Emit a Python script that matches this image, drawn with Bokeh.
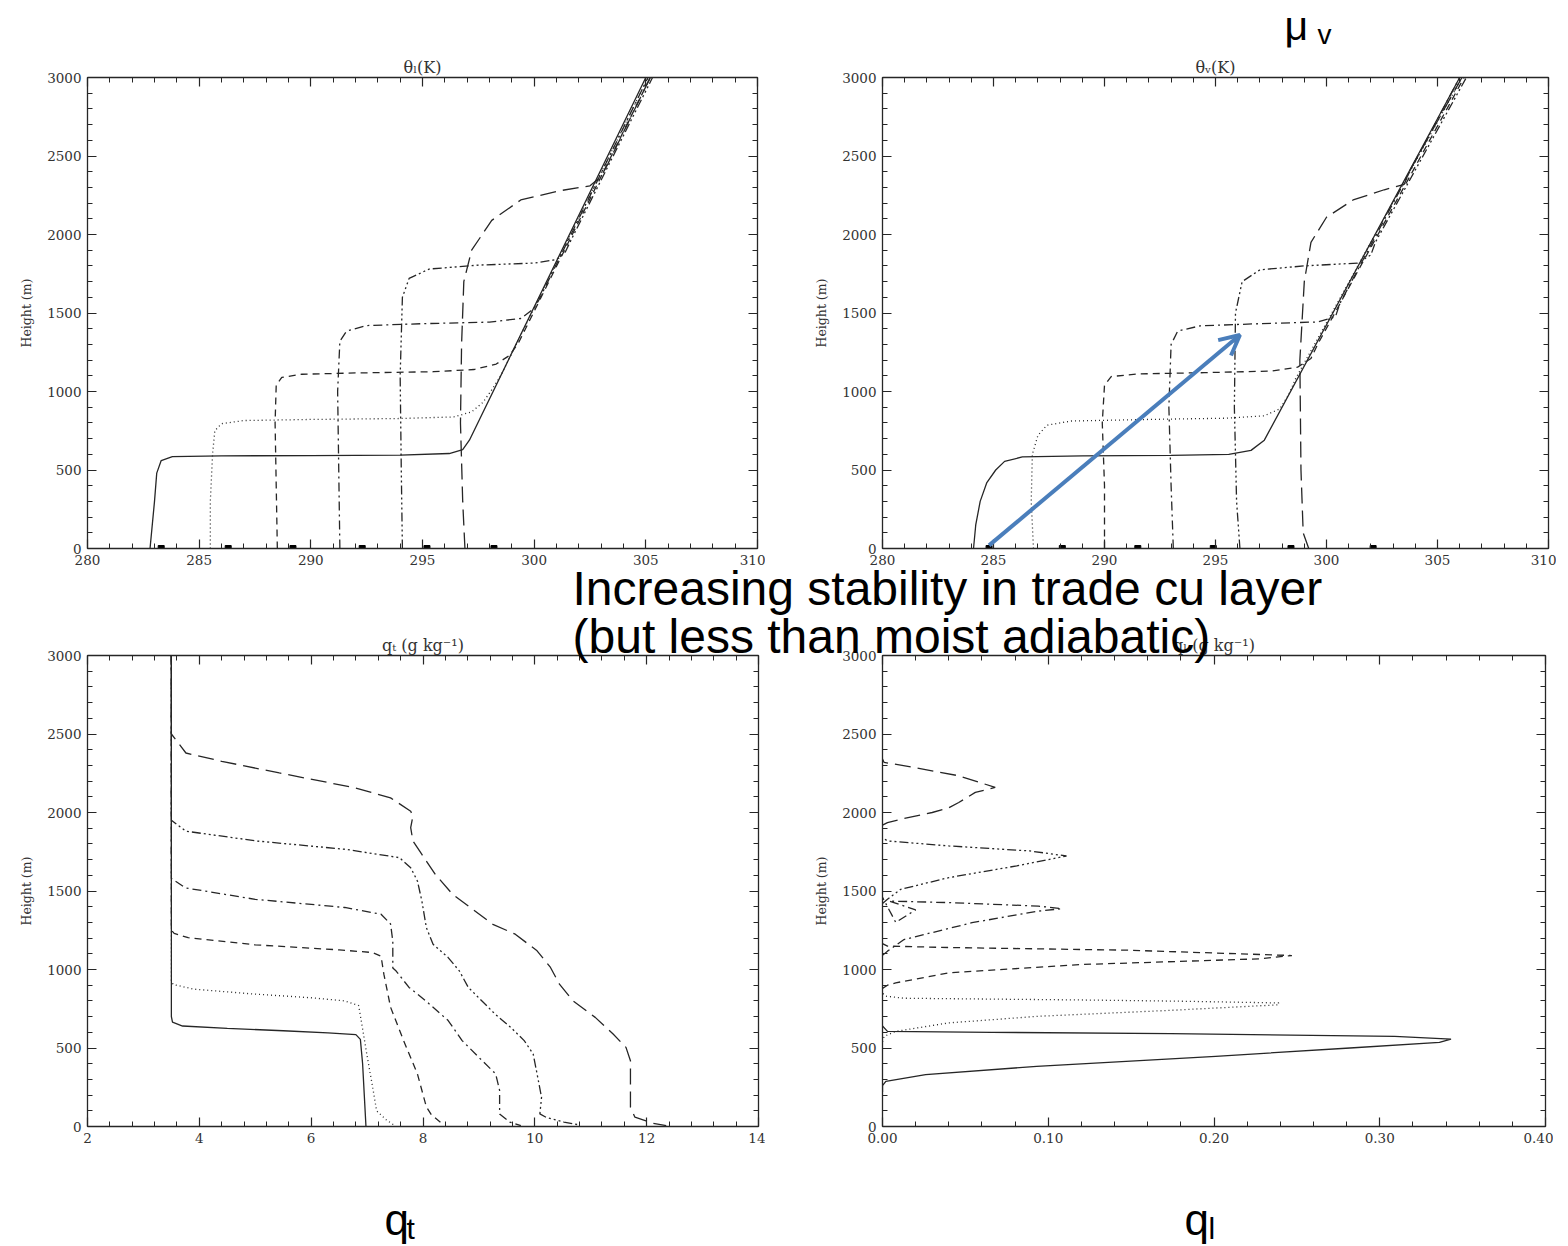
from bokeh.plotting import figure
from bokeh.layouts import column
from bokeh.models import (Range1d, LinearAxis, SingleIntervalTicker, CustomJSTickFormatter,
                          Label, Arrow, OpenHead, GridBox)
from bokeh.embed import file_html
from bokeh.resources import INLINE

# ---------------- data ----------------
# theta_l panel (K, m)
thl_solid_x = [282.8, 283.0, 283.1, 283.3, 283.8, 286.0, 290.0, 294.0, 296.2, 296.8, 297.1, 305.0]
thl_solid_z = [0, 300, 480, 560, 585, 590, 592, 595, 605, 630, 690, 3000]
thl_dot_x = [285.5, 285.5, 285.6, 285.7, 286.0, 287.0, 290.0, 294.0, 296.4, 297.2, 297.7, 298.1, 298.5, 305.1]
thl_dot_z = [0, 300, 600, 750, 795, 815, 822, 828, 838, 870, 930, 1010, 1100, 3000]
thl_dash_x = [288.5, 288.45, 288.4, 288.45, 288.7, 289.6, 292.0, 295.5, 297.3, 298.3, 298.9, 299.3, 305.2]
thl_dash_z = [0, 400, 800, 1040, 1090, 1110, 1118, 1126, 1140, 1175, 1230, 1310, 3000]
thl_dd_x = [291.3, 291.25, 291.2, 291.3, 291.6, 292.5, 295.0, 298.0, 299.4, 300.0, 300.2, 305.1]
thl_dd_z = [0, 500, 1000, 1320, 1385, 1420, 1432, 1442, 1465, 1530, 1580, 3000]
thl_d3_x = [294.1, 294.05, 294.0, 294.1, 294.4, 295.3, 297.5, 300.0, 301.0, 301.4, 301.6, 305.3]
thl_d3_z = [0, 500, 1100, 1600, 1720, 1780, 1805, 1818, 1840, 1890, 1950, 3000]
thl_ld_x = [296.9, 296.8, 296.7, 296.75, 296.85, 297.2, 298.1, 299.4, 301.2, 302.5, 303.0, 303.3, 305.2]
thl_ld_z = [0, 300, 800, 1300, 1700, 1900, 2090, 2220, 2280, 2310, 2370, 2450, 3000]
thl_marks = [283.3, 286.3, 289.2, 292.3, 295.2, 298.2]

# theta_v panel (K, m)
thv_solid_x = [284.1, 284.2, 284.4, 284.7, 285.1, 285.5, 286.3, 289.0, 293.0, 295.6, 296.6, 297.2, 306.0]
thv_solid_z = [0, 150, 300, 420, 500, 555, 583, 590, 593, 600, 625, 690, 3000]
thv_dot_x = [286.8, 286.7, 286.75, 287.0, 287.4, 288.5, 292.0, 295.5, 297.2, 297.9, 298.3, 298.6, 306.1]
thv_dot_z = [0, 300, 600, 720, 785, 812, 822, 830, 845, 890, 980, 1080, 3000]
thv_dash_x = [290.0, 290.0, 289.9, 290.0, 290.3, 291.5, 294.5, 297.5, 298.7, 299.3, 299.6, 306.2]
thv_dash_z = [0, 400, 800, 1040, 1095, 1112, 1120, 1130, 1155, 1210, 1300, 3000]
thv_dd_x = [293.1, 293.0, 292.9, 293.0, 293.3, 294.3, 297.0, 299.6, 300.4, 300.6, 306.0]
thv_dd_z = [0, 400, 900, 1300, 1385, 1418, 1432, 1443, 1475, 1560, 3000]
thv_d3_x = [296.1, 295.95, 295.85, 295.9, 296.2, 297.0, 299.0, 301.4, 302.0, 302.2, 306.3]
thv_d3_z = [0, 300, 900, 1500, 1700, 1775, 1800, 1818, 1870, 1950, 3000]
thv_ld_x = [299.2, 298.95, 298.85, 298.8, 299.0, 299.3, 300.0, 301.2, 302.6, 303.5, 303.8, 306.1]
thv_ld_z = [0, 100, 500, 1200, 1700, 1950, 2110, 2220, 2285, 2320, 2420, 3000]
thv_marks = [284.8, 288.1, 291.5, 294.9, 298.4, 302.1]

# q_t panel (g/kg, m)
qt_solid_x = [3.5, 3.5, 3.52, 3.7, 4.5, 5.5, 6.3, 6.8, 6.88, 6.92, 6.95, 6.98]
qt_solid_z = [3000, 700, 665, 640, 625, 610, 596, 585, 555, 400, 200, 0]
qt_dot_x = [3.5, 3.5, 3.53, 3.9, 5.0, 6.0, 6.6, 6.85, 6.93, 7.0, 7.1, 7.17, 7.35, 7.5]
qt_dot_z = [3000, 930, 905, 875, 843, 820, 800, 770, 600, 450, 250, 100, 40, 5]
qt_dash_x = [3.5, 3.5, 3.55, 3.8, 5.0, 6.5, 7.1, 7.25, 7.3, 7.42, 7.65, 7.9, 8.06, 8.15, 8.35]
qt_dash_z = [3000, 1250, 1230, 1203, 1157, 1125, 1108, 1085, 970, 760, 550, 335, 125, 75, 15]
qt_dd_x = [3.5, 3.5, 3.75, 5.0, 6.6, 7.25, 7.42, 7.46, 7.46, 7.52, 7.75, 8.05, 8.45, 8.7, 9.0, 9.3, 9.37, 9.37, 9.55, 9.75]
qt_dd_z = [3000, 1580, 1520, 1447, 1395, 1352, 1290, 1180, 1010, 990, 886, 800, 675, 547, 440, 335, 230, 80, 28, 5]
qt_d3_x = [3.5, 3.5, 3.76, 5.04, 6.63, 7.58, 7.78, 7.9, 7.98, 8.06, 8.18, 8.45, 8.65, 8.81, 9.05, 9.29,
           9.57, 9.81, 9.97, 10.04, 10.12, 10.09, 10.2, 10.52, 10.8]
qt_d3_z = [3000, 1950, 1881, 1818, 1765, 1712, 1648, 1564, 1436, 1267, 1161, 1076, 991, 886, 801, 716,
           631, 547, 462, 335, 186, 80, 59, 28, 10]
qt_ld_x = [3.5, 3.5, 3.76, 4.4, 5.43, 6.79, 7.42, 7.78, 7.82, 7.78, 7.82, 7.98, 8.22, 8.53, 8.85, 9.25, 9.65,
           10.04, 10.28, 10.44, 10.68, 11.08, 11.4, 11.63, 11.71, 11.71, 11.71, 11.79, 12.11, 12.35]
qt_ld_z = [3000, 2500, 2379, 2326, 2252, 2157, 2093, 2008, 1977, 1903, 1818, 1733, 1606, 1479, 1394, 1288, 1225,
           1119, 1013, 907, 801, 695, 589, 504, 419, 229, 123, 59, 21, 6]

# q_l panel (g/kg, m)
ql_solid_x = [0.0, 0.0, 0.002, 0.026, 0.093, 0.201, 0.282, 0.336, 0.343, 0.309, 0.174, 0.066, 0.003, 0.0]
ql_solid_z = [220, 260, 287, 330, 383, 447, 500, 536, 557, 574, 591, 600, 606, 640]
ql_dot_x = [0.0, 0.001, 0.008, 0.040, 0.094, 0.174, 0.239, 0.239, 0.18, 0.12, 0.06, 0.013, 0.002, 0.0]
ql_dot_z = [540, 574, 606, 660, 702, 740, 775, 787, 798, 806, 812, 817, 830, 850]
ql_dash_x = [0.0, 0.003, 0.008, 0.04, 0.121, 0.228, 0.247, 0.148, 0.04, 0.003, 0.0]
ql_dash_z = [880, 900, 915, 979, 1032, 1068, 1089, 1123, 1140, 1149, 1165]
ql_dd_x = [0.0, 0.003, 0.013, 0.054, 0.094, 0.108, 0.094, 0.04, 0.004, 0.02, 0.008, 0.0]
ql_dd_z = [1090, 1117, 1191, 1298, 1372, 1387, 1404, 1426, 1436, 1380, 1300, 1460]
ql_d3_x = [0.0, 0.003, 0.011, 0.04, 0.081, 0.111, 0.089, 0.04, 0.003, 0.0]
ql_d3_z = [1420, 1447, 1511, 1585, 1660, 1723, 1755, 1787, 1819, 1840]
ql_ld_x = [0.0, 0.003, 0.011, 0.030, 0.040, 0.046, 0.056, 0.068, 0.046, 0.019, 0.001, 0.0]
ql_ld_z = [1920, 1936, 1957, 2000, 2030, 2064, 2128, 2160, 2234, 2287, 2319, 2340]

# ---------------- styling ----------------
SERIF = "DejaVu Serif"
SANS = "Liberation Sans"
INK = "#262626"
DASHES = ["solid", "1 3", "7 5", "9 4 2 4", "9 3 2 3 2 3 2 3", "16 7"]


def style_axis(ax, labels=True):
    ax.axis_line_color = INK
    ax.axis_line_width = 1.3
    ax.major_tick_in = 9
    ax.major_tick_out = 0
    ax.minor_tick_in = 5
    ax.minor_tick_out = 0
    ax.major_tick_line_color = INK
    ax.minor_tick_line_color = INK
    ax.major_tick_line_width = 1.2
    ax.minor_tick_line_width = 1.0
    ax.major_label_text_font = SERIF
    ax.major_label_text_font_size = "13.5px"
    ax.major_label_text_color = "#333333"
    ax.major_label_standoff = 6
    ax.axis_label_text_font = SERIF
    ax.axis_label_text_font_style = "normal"
    ax.axis_label_text_color = "#333333"
    if not labels:
        ax.formatter = CustomJSTickFormatter(code="return ''")


def panel(xr, xint, xfmt, fw, fh, left, top, bl, bt, title):
    p = figure(frame_width=fw, frame_height=fh, x_range=Range1d(*xr), y_range=Range1d(0, 3000),
               min_border_left=bl, min_border_top=bt, min_border_right=8, min_border_bottom=30,
               toolbar_location=None, output_backend="svg", margin=(top, 0, 0, left),
               background_fill_color="white", border_fill_color=None, outline_line_color=None)
    p.xgrid.visible = False
    p.ygrid.visible = False
    xt = SingleIntervalTicker(interval=xint, num_minor_ticks=5)
    yt = SingleIntervalTicker(interval=500, num_minor_ticks=5)
    p.xaxis.ticker = xt
    p.yaxis.ticker = yt
    if xfmt:
        p.xaxis.formatter = CustomJSTickFormatter(code=xfmt)
    style_axis(p.xaxis[0])
    style_axis(p.yaxis[0])
    p.yaxis.axis_label = "Height (m)"
    p.yaxis.axis_label_text_font_size = "12.5px"
    p.yaxis.axis_label_standoff = 10
    top_ax = LinearAxis(ticker=xt, axis_label=title)
    style_axis(top_ax, labels=False)
    top_ax.axis_label_text_font_size = "16px"
    top_ax.axis_label_standoff = 1
    right_ax = LinearAxis(ticker=yt)
    style_axis(right_ax, labels=False)
    p.add_layout(top_ax, "above")
    p.add_layout(right_ax, "right")
    return p


def draw(p, curves):
    for (xs, zs), dash in zip(curves, DASHES):
        p.line(xs, zs, line_color=INK, line_width=1.3, line_dash=dash)


p_tl = panel((280, 310), 5, None, 670, 471, 0, 0, 87, 77, "θₗ(K)")
draw(p_tl, [(thl_solid_x, thl_solid_z), (thl_dot_x, thl_dot_z), (thl_dash_x, thl_dash_z),
            (thl_dd_x, thl_dd_z), (thl_d3_x, thl_d3_z), (thl_ld_x, thl_ld_z)])
p_tl.scatter(thl_marks, [0] * len(thl_marks), marker="square", size=6, color="black")

p_tr = panel((280, 310), 5, None, 666, 471, 795, 0, 87, 77, "θᵥ(K)")
draw(p_tr, [(thv_solid_x, thv_solid_z), (thv_dot_x, thv_dot_z), (thv_dash_x, thv_dash_z),
            (thv_dd_x, thv_dd_z), (thv_d3_x, thv_d3_z), (thv_ld_x, thv_ld_z)])
p_tr.scatter(thv_marks, [0] * len(thv_marks), marker="square", size=6, color="black")
p_tr.add_layout(Arrow(end=OpenHead(size=20, line_color="#4a7ebb", line_width=4),
                      x_start=284.8, y_start=20, x_end=296.1, y_end=1360,
                      line_color="#4a7ebb", line_width=4))

p_bl = panel((2, 14), 2, None, 671, 471, 0, 578, 86, 77, "qₜ (g kg⁻¹)")
draw(p_bl, [(qt_solid_x, qt_solid_z), (qt_dot_x, qt_dot_z), (qt_dash_x, qt_dash_z),
            (qt_dd_x, qt_dd_z), (qt_d3_x, qt_d3_z), (qt_ld_x, qt_ld_z)])

p_br = panel((0, 0.4), 0.1, "return tick.toFixed(2)", 663, 471, 795, 578, 87, 77, "qₗ (g kg⁻¹)")
draw(p_br, [(ql_solid_x, ql_solid_z), (ql_dot_x, ql_dot_z), (ql_dash_x, ql_dash_z),
            (ql_dd_x, ql_dd_z), (ql_d3_x, ql_d3_z), (ql_ld_x, ql_ld_z)])

# ---------------- page-level overlay for slide text ----------------
ov = figure(width=1568, height=1246, x_range=Range1d(0, 1568), y_range=Range1d(1246, 0),
            x_axis_location=None, y_axis_location=None, toolbar_location=None, output_backend="svg",
            min_border=0, min_border_left=0, min_border_right=0, min_border_top=0, min_border_bottom=0,
            background_fill_color=None, border_fill_color=None, outline_line_color=None)
ov.xgrid.visible = False
ov.ygrid.visible = False


def lab(x, y, t, size):
    ov.add_layout(Label(x=x, y=y, text=t, text_font=SANS, text_font_size=size,
                        text_color="black", text_baseline="alphabetic"))


lab(1284, 25, "μ", "41px")
lab(1317, 34, "v", "28px")
lab(572, 588, "Increasing stability in trade cu layer", "48px")
lab(572, 636, "(but less than moist adiabatic)", "48px")
lab(384, 1219, "q", "44px")
lab(406, 1228, "t", "30px")
lab(1184, 1219, "q", "44px")
lab(1208, 1228, "l", "30px")

page = GridBox(children=[(p_tl, 0, 0), (p_tr, 0, 0), (p_bl, 0, 0), (p_br, 0, 0), (column(ov), 0, 0)])

open("out.html", "w").write(file_html(page, INLINE))
